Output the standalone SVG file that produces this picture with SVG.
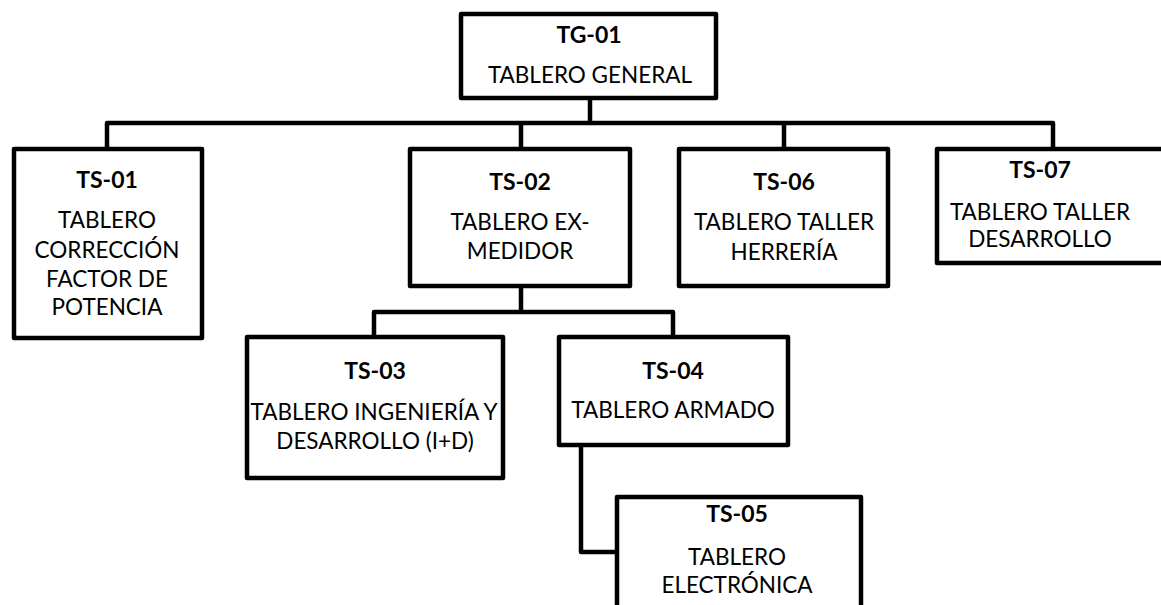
<svg xmlns="http://www.w3.org/2000/svg" width="1161" height="605" viewBox="0 0 1161 605">
<style>
.box{fill:#fff;stroke:#000;stroke-width:4.5;stroke-linejoin:round}
.ln{fill:none;stroke:#000;stroke-width:4.5;stroke-linejoin:round}
text{font-family:Lato,"Open Sans",sans-serif;font-size:22.5px;fill:#000;text-anchor:middle}
.t{font-weight:bold;font-size:23px}
</style>
<rect width="1161" height="605" fill="#fff"/>
<g id="connectors">
<path class="ln" d="M590 98 V123"/>
<path class="ln" d="M107 147 V123 H1053 V147"/>
<path class="ln" d="M521 123 V147"/>
<path class="ln" d="M784 123 V147"/>
<path class="ln" d="M521 286 V312"/>
<path class="ln" d="M374 337 V312 H673 V337"/>
<path class="ln" d="M581 447 V552 H617"/>
</g>
<g id="TG-01">
<rect class="box" x="461" y="14" width="255" height="84"/>
<text class="t" x="589" y="43">TG-01</text>
<text x="590" y="83">TABLERO GENERAL</text>
</g>
<g id="TS-01">
<rect class="box" x="14" y="149" width="188" height="189"/>
<text class="t" x="107" y="188">TS-01</text>
<text x="107" y="228">TABLERO</text>
<text x="107" y="258">CORRECCIÓN</text>
<text x="107" y="287">FACTOR DE</text>
<text x="107" y="315">POTENCIA</text>
</g>
<g id="TS-02">
<rect class="box" x="410" y="149" width="220" height="137"/>
<text class="t" x="520" y="190">TS-02</text>
<text x="520" y="230">TABLERO EX-</text>
<text x="520" y="259">MEDIDOR</text>
</g>
<g id="TS-06">
<rect class="box" x="679" y="149" width="209" height="137"/>
<text class="t" x="784" y="190">TS-06</text>
<text x="784" y="230">TABLERO TALLER</text>
<text x="784" y="260">HERRERÍA</text>
</g>
<g id="TS-07">
<rect class="box" x="937" y="149" width="240" height="114"/>
<text class="t" x="1040" y="178">TS-07</text>
<text x="1040" y="220">TABLERO TALLER</text>
<text x="1040" y="247">DESARROLLO</text>
</g>
<g id="TS-03">
<rect class="box" x="247" y="337" width="256" height="141"/>
<text class="t" x="375" y="379">TS-03</text>
<text x="374" y="420">TABLERO INGENIERÍA Y</text>
<text x="375" y="449">DESARROLLO (I+D)</text>
</g>
<g id="TS-04">
<rect class="box" x="559" y="337" width="229" height="108"/>
<text class="t" x="673" y="379">TS-04</text>
<text x="673" y="418">TABLERO ARMADO</text>
</g>
<g id="TS-05">
<rect class="box" x="617" y="497" width="244" height="130"/>
<text class="t" x="737" y="522">TS-05</text>
<text x="737" y="565">TABLERO</text>
<text x="737" y="593">ELECTRÓNICA</text>
</g>
</svg>
